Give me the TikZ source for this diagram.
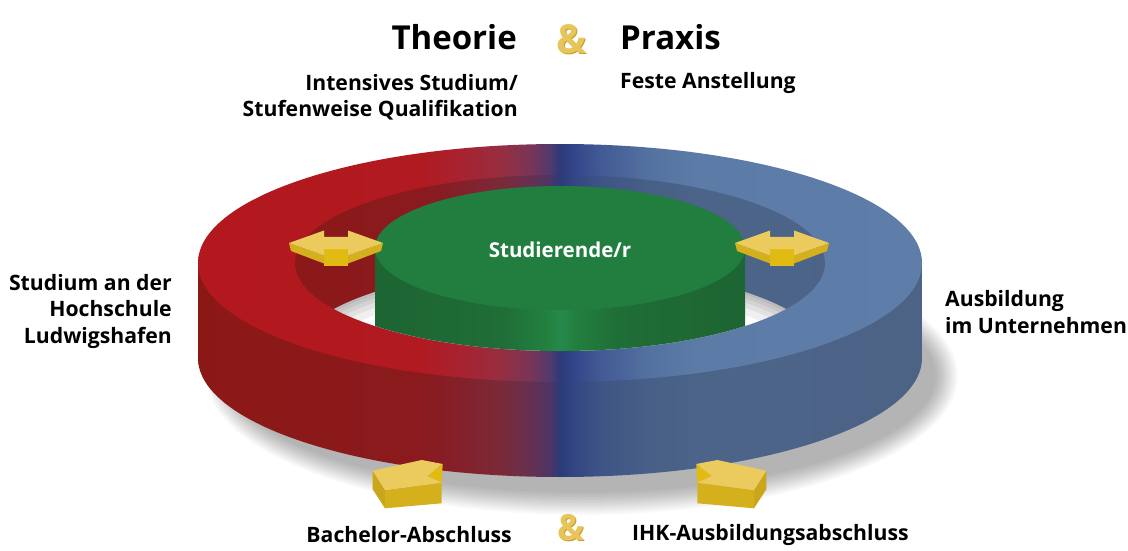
\documentclass[tikz,border=0pt]{standalone}
\usepackage{fontspec}
\setmainfont{Open Sans}
\definecolor{rtA}{HTML}{B3181E}
\definecolor{rtB}{HTML}{B01A20}
\definecolor{rtC}{HTML}{A82230}
\definecolor{rtD}{HTML}{962E40}
\definecolor{rtE}{HTML}{7A3556}
\definecolor{rtF}{HTML}{523A6C}
\definecolor{rtG}{HTML}{2C3A7A}
\definecolor{rtH}{HTML}{34468A}
\definecolor{rtI}{HTML}{425A95}
\definecolor{rtJ}{HTML}{5472A0}
\definecolor{rtK}{HTML}{5C7CA7}
\definecolor{rtL}{HTML}{5E7DA8}
\definecolor{rsA}{HTML}{8C1816}
\definecolor{rsB}{HTML}{8A1A1D}
\definecolor{rsC}{HTML}{84202A}
\definecolor{rsD}{HTML}{7A2A38}
\definecolor{rsE}{HTML}{673050}
\definecolor{rsF}{HTML}{4C3565}
\definecolor{rsG}{HTML}{2C3A78}
\definecolor{rsH}{HTML}{334682}
\definecolor{rsI}{HTML}{3E5485}
\definecolor{rsJ}{HTML}{485F87}
\definecolor{rsK}{HTML}{4C6488}
\definecolor{rsL}{HTML}{4C6386}
\definecolor{gsA}{HTML}{1D6533}
\definecolor{gsB}{HTML}{1F6D37}
\definecolor{gsC}{HTML}{22803F}
\definecolor{gsD}{HTML}{26894B}
\definecolor{greentop}{HTML}{227E3F}
\definecolor{ytop}{HTML}{EBCA5E}
\definecolor{yfront}{HTML}{D4B11C}
\definecolor{ymid}{HTML}{E1BB12}
\definecolor{yside}{HTML}{C9A61A}
\definecolor{gold}{HTML}{E8C55A}
\definecolor{golddark}{HTML}{C9A02E}
\pgfdeclarehorizontalshading{ringtop}{100bp}{color(0bp)=(rtA); color(25bp)=(rtA); color(40.3bp)=(rtB); color(43.1bp)=(rtC); color(45.9bp)=(rtD); color(47.9bp)=(rtE); color(49.3bp)=(rtF); color(50bp)=(rtG); color(51bp)=(rtH); color(52.8bp)=(rtI); color(56.2bp)=(rtJ); color(59.7bp)=(rtK); color(75bp)=(rtL); color(100bp)=(rtL)}
\pgfdeclarehorizontalshading{ringside}{100bp}{color(0bp)=(rsA); color(25bp)=(rsA); color(40.3bp)=(rsB); color(43.1bp)=(rsC); color(45.9bp)=(rsD); color(47.9bp)=(rsE); color(49.3bp)=(rsF); color(50bp)=(rsG); color(51bp)=(rsH); color(52.8bp)=(rsI); color(56.2bp)=(rsJ); color(59.7bp)=(rsK); color(75bp)=(rsL); color(100bp)=(rsL)}
\pgfdeclarehorizontalshading{greenside}{100bp}{color(0bp)=(gsA); color(25bp)=(gsA); color(41.9bp)=(gsB); color(48bp)=(gsC); color(50bp)=(gsD); color(52bp)=(gsC); color(58.1bp)=(gsB); color(75bp)=(gsA); color(100bp)=(gsA)}
\usetikzlibrary{calc}
\tikzset{
  lbl/.style={font=\bfseries\fontsize{21.2}{26.5}\selectfont, inner sep=0pt, text=black},
  ttl/.style={font=\bfseries\fontsize{33}{36}\selectfont, inner sep=0pt, text=black},
  amp/.style={font=\bfseries\fontsize{40}{40}\selectfont, inner sep=0pt, text=gold},
  ampshadow/.style={font=\bfseries\fontsize{40}{40}\selectfont, inner sep=0pt, text=golddark},
}
\newcommand{\dblyarrow}{%
  \fill[ymid] (-12,-6) -- (12,-6) -- (12,-23) -- (-12,-23) -- cycle;
  \fill[yfront] (-47,0) -- (-12,-12.5) -- (-12,-20.5) -- (-45,-8) -- cycle;
  \fill[yfront] (47,0) -- (12,-12.5) -- (12,-20.5) -- (45,-8) -- cycle;
  \fill[ytop] (-47,0) -- (-12,12.5) -- (-12,6) -- (12,6) -- (12,12.5) -- (47,0)
     -- (12,-12.5) -- (12,-6) -- (-12,-6) -- (-12,-12.5) -- cycle;
}
\newcommand{\bentyarrow}{%
  \fill[yside] (372.7,79.3) -- (385,60) -- (385,41.7) -- (372.7,60.7) -- cycle;
  \fill[yfront] (385,60) -- (441.7,67.3) -- (441.7,46.7) -- (385,41.7) -- cycle;
  \fill[ymid] (427,74) -- (442.7,86) -- (441.7,67.3) -- cycle;
  \fill[ytop] (372.7,79.3) -- (421.7,90) -- (442.7,86) -- (427,74) -- (441.7,67.3) -- (385,60) -- cycle;
}
\begin{document}
\begin{tikzpicture}[x=1pt,y=1pt]
\useasboundingbox (0,0) rectangle (1128,550);
\clip (0,0) rectangle (1128,550);
\fill[white] (0,0) rectangle (1128,550);
% soft shadow below the ring
\foreach \k in {1,...,16}
  \fill[black,opacity=0.018] (582,174) ellipse [x radius={352+1.5*\k}, y radius={115+1.5*\k}];
% outer side of the ring
\begin{scope}
  \clip (198,287) -- (198,192) arc [start angle=180, end angle=360, x radius=362, y radius=119] -- (922,287) -- cycle;
  \shade[shading=ringside] (198,60) rectangle (922,420);
\end{scope}
% top surface of the ring
\begin{scope}
  \clip (560,287) ellipse [x radius=362, y radius=119];
  \shade[shading=ringtop] (198,60) rectangle (922,420);
\end{scope}
% hole: inner wall, floor, green cylinder
\begin{scope}
  \clip (560,287) ellipse [x radius=265, y radius=88];
  \shade[shading=ringside] (198,60) rectangle (922,420);
  \fill[white] (560,195) ellipse [x radius=265, y radius=88];
  \begin{scope}
    \clip (560,195) ellipse [x radius=265, y radius=88];
    \foreach \w in {44,30,20,12,5}
      \draw[black, opacity=0.06, line width=\w] (560,195) ellipse [x radius=265, y radius=88];
  \end{scope}
  \shade[shading=greenside] (375,302) -- (375,120) -- (745,120) -- (745,302) -- cycle;
  \fill[greentop] (560,302) ellipse [x radius=185, y radius=62];
\end{scope}
\node[lbl, text=white, font=\bfseries\fontsize{20.5}{26}\selectfont] (stud) at (560,300) {Studierende/r};
% double arrows
\begin{scope}[shift={(336,307)}]\dblyarrow\end{scope}
\begin{scope}[shift={(782,307)}]\dblyarrow\end{scope}
% bent arrows at the bottom
\bentyarrow
\begin{scope}[xshift=1139pt, xscale=-1]\bentyarrow\end{scope}
% texts
\node[ttl, anchor=base east] (theorie) at (517,500) {Theorie};
\node[ampshadow, anchor=base] (amp1s) at (572,495) {\&};
\node[amp, anchor=base] (amp1) at (571,496) {\&};
\node[ttl, anchor=base west] (praxis) at (620,500) {Praxis};
\node[lbl, align=right, anchor=east] (intens) at (518,453) {Intensives Studium/\\Stufenweise Qualifikation};
\node[lbl, anchor=west] (feste) at (620,467) {Feste Anstellung};
\node[lbl, align=right, anchor=east] (hs) at (172,239) {Studium an der\\Hochschule\\Ludwigshafen};
\node[lbl, align=left, anchor=west] (ausb) at (945,238) {Ausbildung\\im Unternehmen};
\node[lbl, anchor=east] (bach) at (512,15) {Bachelor-Abschluss};
\node[lbl, anchor=west] (ihk) at (632,15) {IHK-Ausbildungsabschluss};
\node[ampshadow, anchor=base, font=\bfseries\fontsize{36}{36}\selectfont] (amp2s) at (572,9) {\&};
\node[amp, anchor=base, font=\bfseries\fontsize{36}{36}\selectfont] (amp2) at (571,10) {\&};
\end{tikzpicture}
\end{document}
